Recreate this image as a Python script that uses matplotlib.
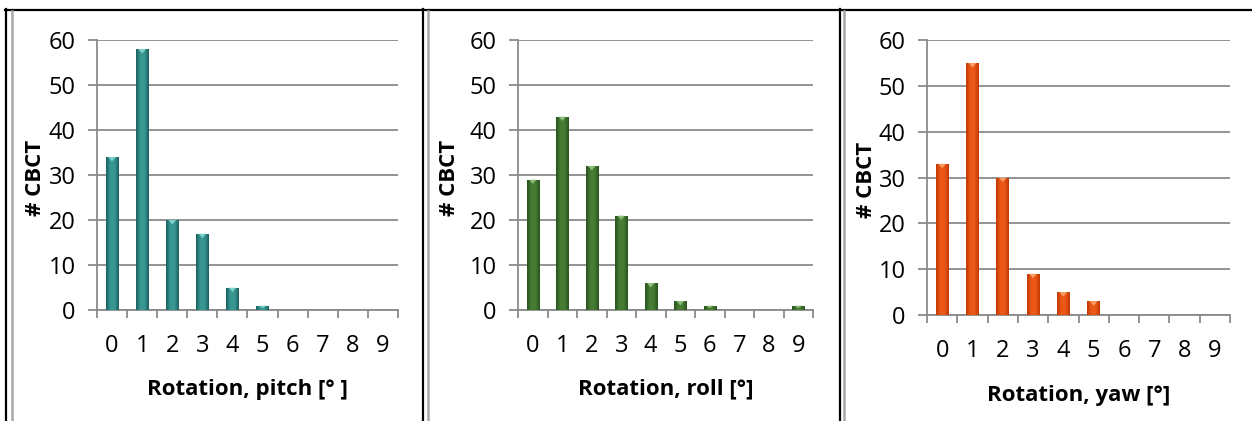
import numpy as np
import matplotlib
matplotlib.use("Agg")
import matplotlib.pyplot as plt
from matplotlib.colors import LinearSegmentedColormap
from matplotlib.lines import Line2D
from matplotlib.patches import Polygon

plt.rcParams['font.family'] = ['Open Sans', 'DejaVu Sans']

# rotation bins (degrees) and number of CBCT per bin
degrees = [0, 1, 2, 3, 4, 5, 6, 7, 8, 9]
pitch = [34, 58, 20, 17, 5, 1, 0, 0, 0, 0]
roll = [29, 43, 32, 21, 6, 2, 1, 0, 0, 1]
yaw = [33, 55, 30, 9, 5, 3, 0, 0, 0, 0]

xlabels = ["Rotation, pitch [° ]", "Rotation, roll [°]", "Rotation, yaw [°]"]
ylabel = "# CBCT"

# dark edge / light centre / top highlight for each series
styles = [
    ("#1a5f5d", "#399893", "#8fe0dc"),
    ("#285220", "#467c33", "#9cd08a"),
    ("#bd3803", "#ec5816", "#ffb07a"),
]

# axes boxes in pixels: left, right, top, bottom (figure is 1252 x 421)
W, H = 1252, 421
boxes = [(97, 398, 40, 310), (518, 813, 40, 310), (927, 1230, 40, 315)]
ylab_x = [-0.17, -0.195, -0.165]

grid_col = "#8a8a8a"


def shaded_bars(ax, x, h, colors, width=0.42):
    dark, light, hi = colors
    bars = ax.bar(x, h, width=width, color=dark, zorder=3, linewidth=0)
    cmap = LinearSegmentedColormap.from_list("b", [dark, light, light, dark])
    grad = np.linspace(0, 1, 64).reshape(1, -1)
    for b, v in zip(bars, h):
        if v <= 0:
            continue
        x0 = b.get_x()
        im = ax.imshow(grad, cmap=cmap, aspect="auto", zorder=4,
                       extent=(x0, x0 + width, 0, v), interpolation="bicubic")
        im.set_clip_path(b)
        # small bevel highlight on the top of the bar
        c = x0 + width / 2
        tri = Polygon([(c - width * 0.3, v), (c + width * 0.3, v), (c, v - min(1.0, v * 0.6))],
                      closed=True, facecolor=hi, edgecolor="none", alpha=0.8, zorder=5)
        ax.add_patch(tri)


fig = plt.figure(figsize=(W / 100, H / 100), dpi=100)

for i, (vals, box) in enumerate(zip([pitch, roll, yaw], boxes)):
    l, r, t, b = box
    ax = fig.add_axes([l / W, (H - b) / H, (r - l) / W, (b - t) / H])
    shaded_bars(ax, degrees, vals, styles[i])

    ax.set_xlim(-0.5, len(degrees) - 0.5)
    ax.set_ylim(0, 60)
    ax.set_yticks(range(0, 61, 10))
    ax.set_xticks(degrees)
    ax.set_xticklabels([str(d) for d in degrees])
    ax.set_xticks(np.arange(-0.5, len(degrees), 1.0), minor=True)

    ax.yaxis.grid(True, color=grid_col, linewidth=1.3, zorder=1)
    ax.set_axisbelow(True)
    for s in ["top", "right"]:
        ax.spines[s].set_visible(False)
    for s in ["left", "bottom"]:
        ax.spines[s].set_color(grid_col)
        ax.spines[s].set_linewidth(1.3)

    ax.tick_params(axis="y", length=6.5, width=1.3, color=grid_col, pad=9,
                   labelsize=17, labelcolor="black")
    ax.tick_params(axis="x", which="major", length=0, pad=17, labelsize=17,
                   labelcolor="black")
    ax.tick_params(axis="x", which="minor", length=6, width=1.3, color=grid_col)

    ax.set_xlabel(xlabels[i], fontsize=16, fontweight="bold")
    ax.xaxis.set_label_coords(0.5, -0.255)
    ax.set_ylabel(ylabel, fontsize=16, fontweight="bold")
    ax.yaxis.set_label_coords(ylab_x[i], 0.49)

# table frame around the three charts
def hline(y, x0, x1, color, lw):
    fig.add_artist(Line2D([x0 / W, x1 / W], [(H - y) / H, (H - y) / H], color=color,
                          linewidth=lw, transform=fig.transFigure))


def vline(x, y0, y1, color, lw):
    fig.add_artist(Line2D([x / W, x / W], [(H - y0) / H, (H - y1) / H], color=color,
                          linewidth=lw, transform=fig.transFigure))


hline(10, 5, W, "black", 1.6)
for xb, xg in [(6, 12), (423, 428), (840, 844)]:
    vline(xb, 9, H, "black", 1.6)
    vline(xg, 11, H, "#a8a8a8", 1.8)

fig.savefig("out.png", dpi=100)
